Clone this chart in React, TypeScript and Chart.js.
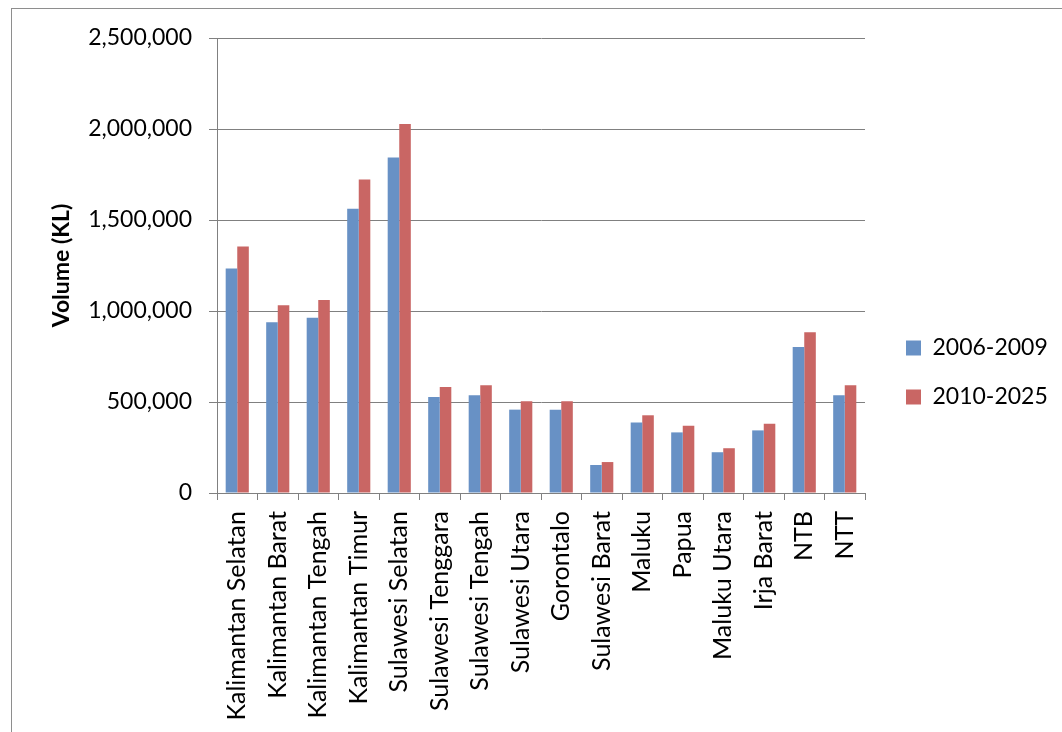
import React, { useEffect, useRef } from 'react';
import { Chart, registerables } from 'chart.js';

Chart.register(...registerables);

// Regions on the category axis
const regions = [
  'Kalimantan Selatan',
  'Kalimantan Barat',
  'Kalimantan Tengah',
  'Kalimantan Timur',
  'Sulawesi Selatan',
  'Sulawesi Tenggara',
  'Sulawesi Tengah',
  'Sulawesi Utara',
  'Gorontalo',
  'Sulawesi Barat',
  'Maluku',
  'Papua',
  'Maluku Utara',
  'Irja Barat',
  'NTB',
  'NTT',
];

// Volume (KL) per period
const volume2006to2009 = [
  1233000, 938000, 963000, 1562000, 1843000, 527000, 537000, 458000,
  458000, 154000, 388000, 333000, 224000, 344000, 802000, 537000,
];
const volume2010to2025 = [
  1355000, 1031000, 1060000, 1722000, 2027000, 582000, 592000, 504000,
  504000, 170000, 427000, 370000, 246000, 381000, 883000, 592000,
];

const seriesNames = ['2006-2009', '2010-2025'];
const yAxisTitle = 'Volume (KL)';
const yTickValues = [0, 500000, 1000000, 1500000, 2000000, 2500000];

const FONT = 'Lato, "Open Sans", sans-serif';
const GRID = '#808080';

// invisible axis used only to reserve space
const spacer = (axis: 'x' | 'y', position: string, size: number) => ({
  type: 'linear',
  axis,
  position,
  display: true,
  grid: { display: false },
  border: { display: false },
  ticks: { display: false },
  afterFit: (s: any) => {
    if (axis === 'x') s.height = size;
    else s.width = size;
  },
});

export default function App() {
  const canvasRef = useRef<HTMLCanvasElement | null>(null);

  useEffect(() => {
    const canvas = canvasRef.current;
    if (!canvas) return;

    const chart = new Chart(canvas, {
      type: 'bar',
      data: {
        labels: regions,
        datasets: [
          {
            label: seriesNames[0],
            data: volume2006to2009,
            backgroundColor: '#6891c5',
            borderWidth: 0,
            categoryPercentage: 0.571,
            barPercentage: 1,
          },
          {
            label: seriesNames[1],
            data: volume2010to2025,
            backgroundColor: '#c96664',
            borderWidth: 0,
            categoryPercentage: 0.571,
            barPercentage: 1,
          },
        ],
      },
      options: {
        responsive: false,
        animation: false,
        layout: { padding: { left: 0, top: 13, right: 6, bottom: 0 } },
        plugins: {
          tooltip: { enabled: false },
          legend: {
            position: 'right',
            align: 'center',
            labels: {
              boxWidth: 15,
              boxHeight: 15,
              padding: 26,
              color: '#000',
              font: { family: FONT, size: 23 },
            },
          },
        },
        scales: {
          x: {
            grid: {
              display: true,
              offset: true,
              drawOnChartArea: false,
              drawTicks: true,
              tickLength: 7,
              color: GRID,
            },
            border: { display: true, color: GRID, width: 1 },
            ticks: {
              autoSkip: false,
              maxRotation: 90,
              minRotation: 90,
              padding: 11,
              color: '#000',
              font: { family: FONT, size: 25 },
            },
            afterFit: (s: any) => {
              s.height = 239;
            },
          },
          y: {
            min: 0,
            max: 2500000,
            afterBuildTicks: (s: any) => {
              s.ticks = yTickValues.map((v) => ({ value: v }));
            },
            grid: {
              color: GRID,
              drawTicks: true,
              tickLength: 8,
            },
            border: { display: true, color: GRID, width: 1 },
            ticks: {
              padding: 17,
              color: '#000',
              font: { family: FONT, size: 23 },
              callback: (v: any) => Number(v).toLocaleString('en-US'),
            },
            title: {
              display: true,
              text: yAxisTitle,
              color: '#000',
              font: { family: FONT, size: 23, weight: 'bold' },
              padding: { top: 48, bottom: 0 },
            },
            afterFit: (s: any) => {
              s.width = 217;
            },
          },
          gapTop: spacer('x', 'top', 25),
          gapRight: spacer('y', 'right', 15),
        },
      },
    } as any);

    return () => chart.destroy();
  }, []);

  return (
    <div
      style={{
        position: 'fixed',
        left: 0,
        top: 0,
        width: 1062,
        height: 732,
        overflow: 'hidden',
        background: '#fff',
      }}
    >
      <div
        style={{
          position: 'absolute',
          left: 11,
          top: 8,
          width: 1100,
          height: 800,
          borderTop: '1px solid #8e8e8e',
          borderLeft: '1px solid #8e8e8e',
        }}
      />
      <canvas
        ref={canvasRef}
        width={1062}
        height={732}
        style={{ position: 'absolute', left: 0, top: 0 }}
      />
    </div>
  );
}
